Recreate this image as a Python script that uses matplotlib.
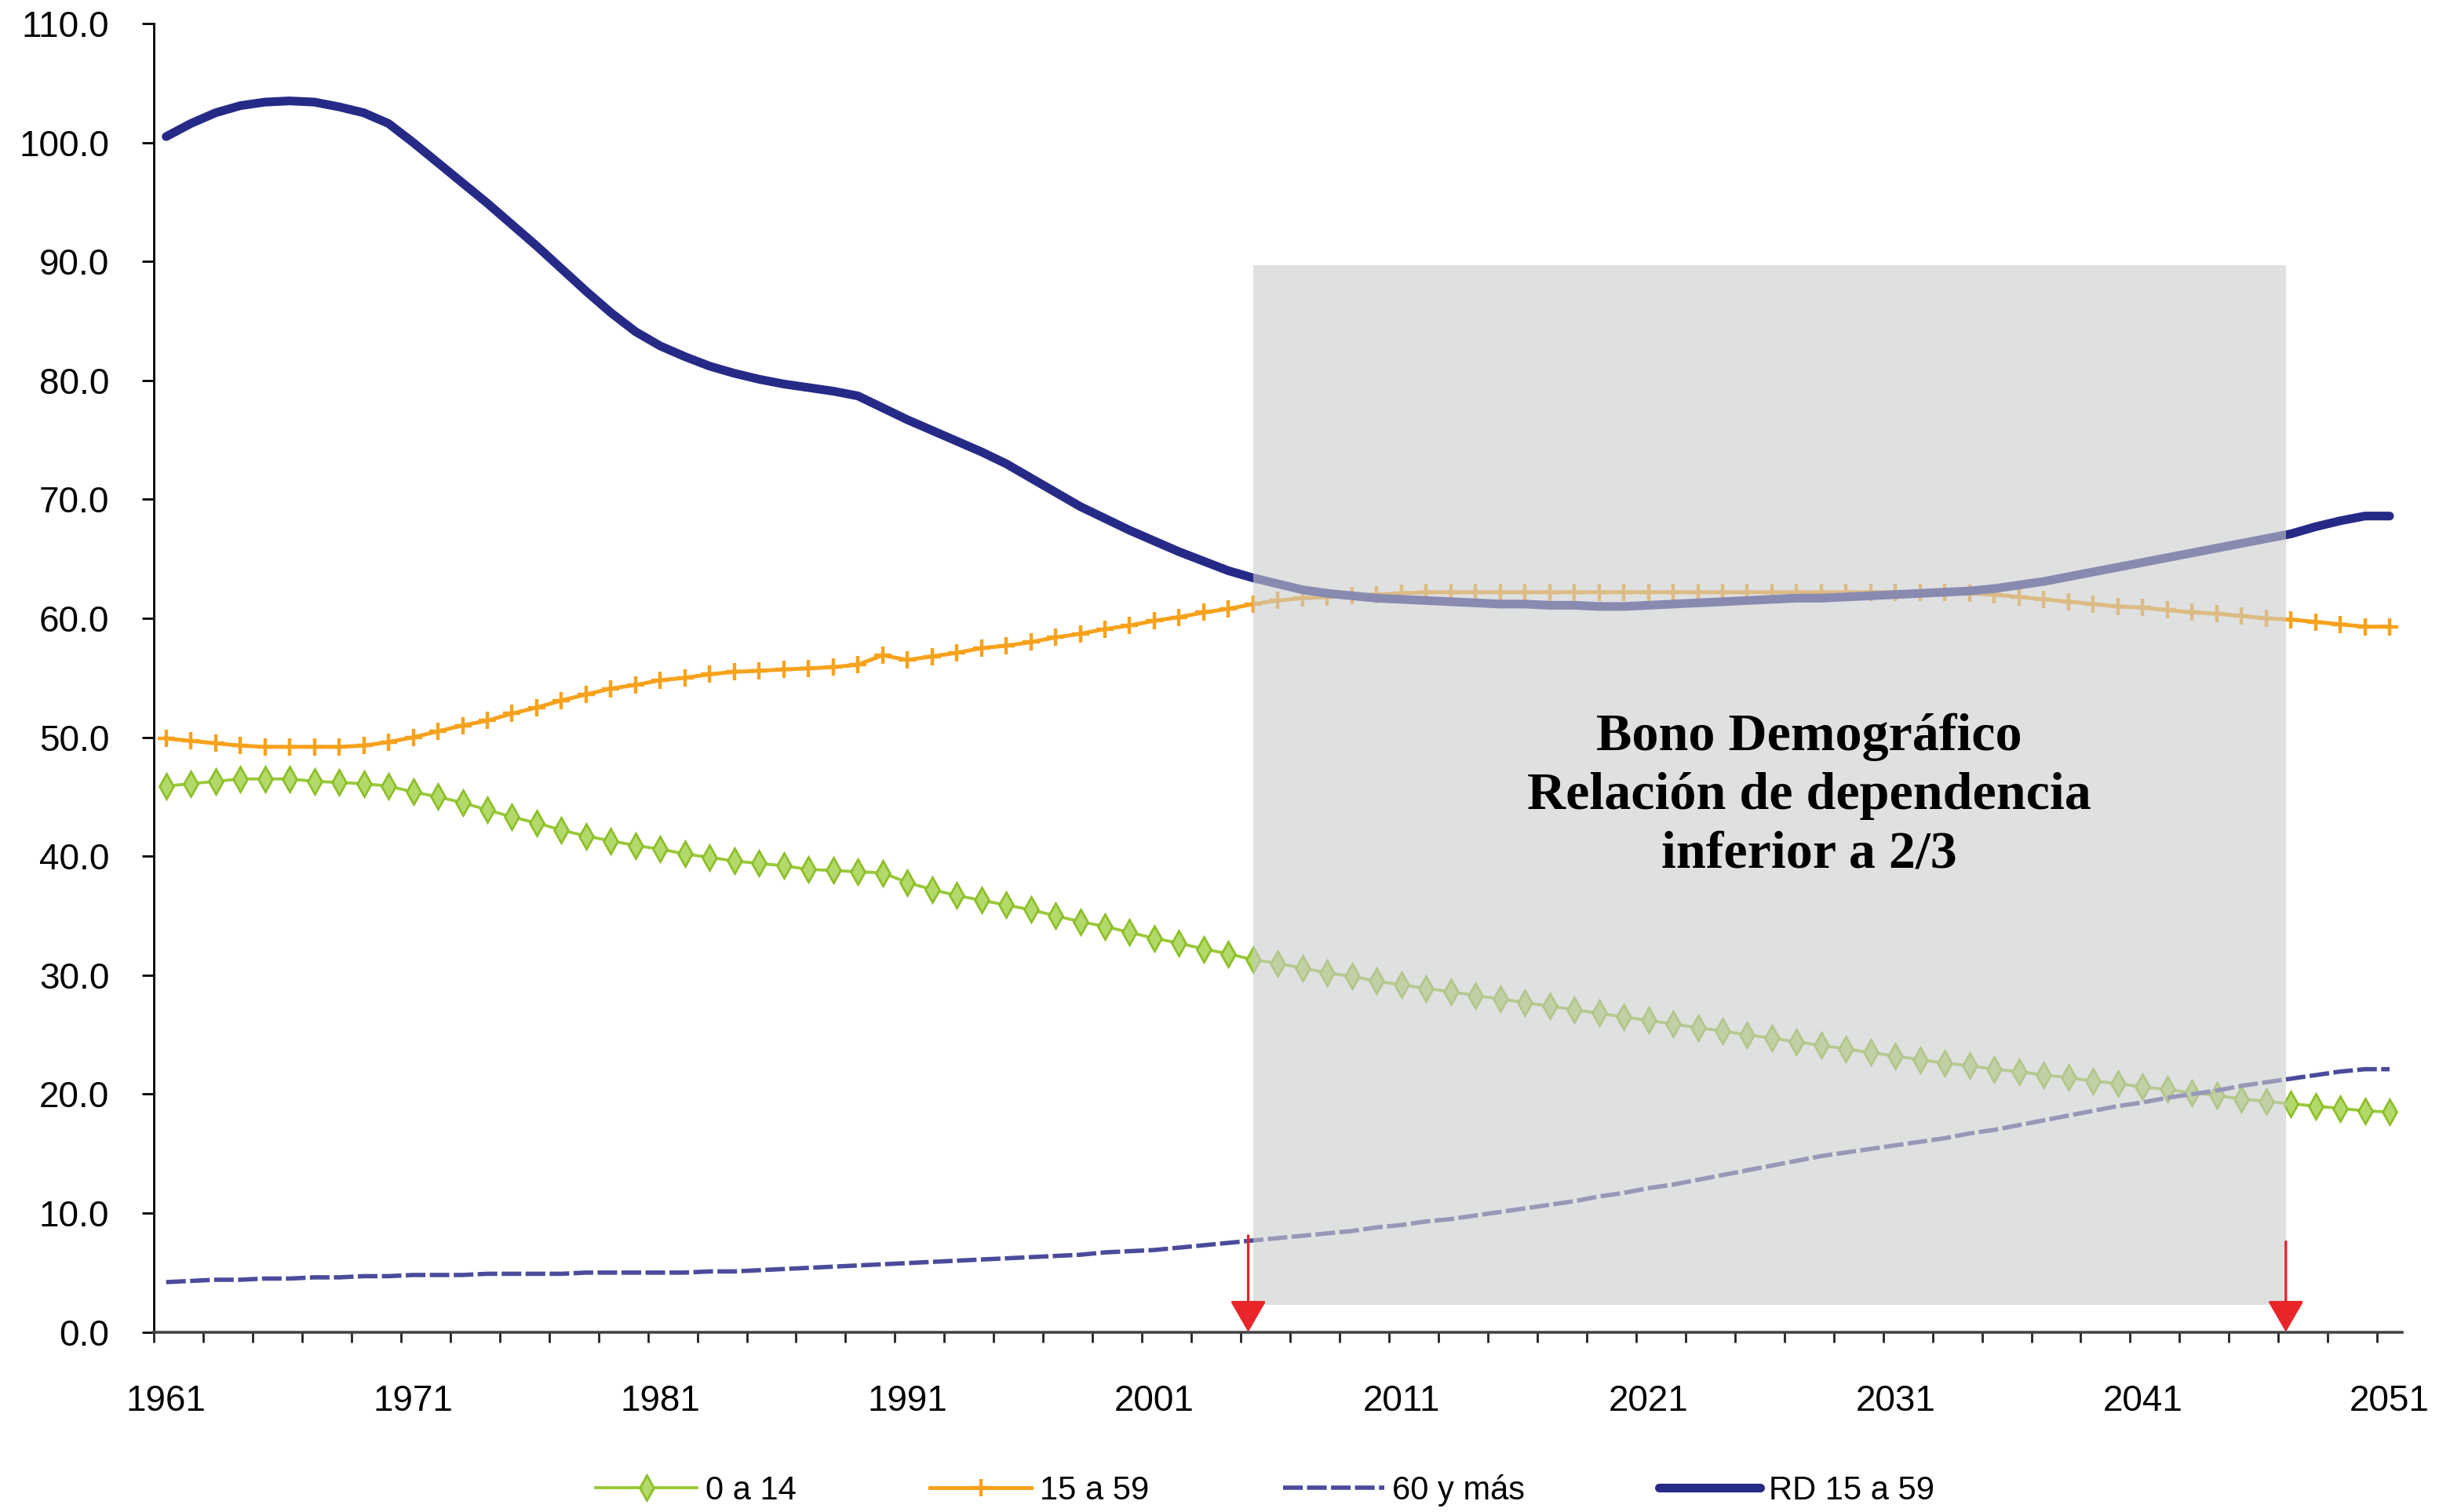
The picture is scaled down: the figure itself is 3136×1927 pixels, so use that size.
import matplotlib
matplotlib.use("Agg")
import matplotlib.pyplot as plt
from matplotlib.patches import Rectangle

# %% data
years = list(range(1961, 2052))

edad_0_14 = [45.9, 46.1, 46.3, 46.5, 46.5, 46.5, 46.3, 46.2, 46.1, 45.9,
             45.4, 45.0, 44.5, 43.9, 43.3, 42.8, 42.2, 41.7, 41.3, 40.9,
             40.6, 40.2, 39.9, 39.6, 39.4, 39.2, 38.9, 38.8, 38.7, 38.6,
             37.8, 37.2, 36.7, 36.3, 35.9, 35.5, 35.0, 34.5, 34.1, 33.6,
             33.1, 32.7, 32.2, 31.8, 31.3, 31.0, 30.6, 30.2, 29.9, 29.5,
             29.2, 28.9, 28.6, 28.3, 28.0, 27.7, 27.4, 27.1, 26.8, 26.5,
             26.2, 25.9, 25.6, 25.3, 25.0, 24.7, 24.4, 24.1, 23.8, 23.5,
             23.2, 22.9, 22.6, 22.4, 22.1, 21.9, 21.6, 21.4, 21.1, 20.9,
             20.6, 20.4, 20.1, 19.9, 19.6, 19.4, 19.2, 19.0, 18.8, 18.6,
             18.5]

edad_15_59 = [49.9, 49.7, 49.5, 49.3, 49.2, 49.2, 49.2, 49.2, 49.3, 49.6,
              50.0, 50.5, 51.0, 51.4, 52.0, 52.5, 53.1, 53.6, 54.1, 54.4,
              54.8, 55.0, 55.3, 55.5, 55.6, 55.7, 55.8, 55.9, 56.1, 56.9,
              56.5, 56.8, 57.1, 57.5, 57.7, 58.0, 58.4, 58.7, 59.1, 59.4,
              59.8, 60.1, 60.5, 60.8, 61.2, 61.5, 61.7, 61.8, 61.9, 62.0,
              62.1, 62.2, 62.2, 62.2, 62.2, 62.2, 62.2, 62.2, 62.2, 62.2,
              62.2, 62.2, 62.2, 62.2, 62.2, 62.2, 62.2, 62.2, 62.2, 62.2,
              62.2, 62.2, 62.2, 62.1, 62.0, 61.8, 61.6, 61.4, 61.2, 61.0,
              60.9, 60.7, 60.5, 60.4, 60.2, 60.0, 59.9, 59.7, 59.5, 59.3,
              59.3]

edad_60_mas = [4.2, 4.3, 4.4, 4.4, 4.5, 4.5, 4.6, 4.6, 4.7, 4.7,
               4.8, 4.8, 4.8, 4.9, 4.9, 4.9, 4.9, 5.0, 5.0, 5.0,
               5.0, 5.0, 5.1, 5.1, 5.2, 5.3, 5.4, 5.5, 5.6, 5.7,
               5.8, 5.9, 6.0, 6.1, 6.2, 6.3, 6.4, 6.5, 6.7, 6.8,
               6.9, 7.1, 7.3, 7.5, 7.7, 7.9, 8.1, 8.3, 8.5, 8.8,
               9.0, 9.3, 9.5, 9.8, 10.1, 10.4, 10.7, 11.0, 11.4, 11.7,
               12.1, 12.4, 12.8, 13.2, 13.6, 14.0, 14.4, 14.8, 15.1, 15.4,
               15.7, 16.0, 16.3, 16.7, 17.0, 17.4, 17.8, 18.2, 18.6, 19.0,
               19.3, 19.7, 20.0, 20.3, 20.7, 21.0, 21.3, 21.6, 21.9, 22.1,
               22.1]

rd_15_59 = [100.5, 101.6, 102.5, 103.1, 103.4, 103.5, 103.4, 103.0, 102.5, 101.6,
            100.0, 98.3, 96.6, 94.9, 93.1, 91.3, 89.4, 87.5, 85.7, 84.1,
            82.9, 82.0, 81.2, 80.6, 80.1, 79.7, 79.4, 79.1, 78.7, 77.7,
            76.7, 75.8, 74.9, 74.0, 73.0, 71.8, 70.6, 69.4, 68.4, 67.4,
            66.5, 65.6, 64.8, 64.0, 63.4, 62.9, 62.4, 62.1, 61.9, 61.7,
            61.6, 61.5, 61.4, 61.3, 61.2, 61.2, 61.1, 61.1, 61.0, 61.0,
            61.1, 61.2, 61.3, 61.4, 61.5, 61.6, 61.7, 61.7, 61.8, 61.9,
            62.0, 62.1, 62.2, 62.3, 62.5, 62.8, 63.1, 63.5, 63.9, 64.3,
            64.7, 65.1, 65.5, 65.9, 66.3, 66.7, 67.1, 67.7, 68.2, 68.6,
            68.6]

year_labels = list(range(1961, 2052, 10))
bono_start, bono_end = 2005.0, 2046.8
arrow_years = [2004.8, 2046.8]
arrow_tops = [8.1, 7.6]

# %% figure
fig = plt.figure(figsize=(15.68, 9.635), dpi=200)
ax = fig.add_axes([0.0625, 0.119, 0.9135, 0.8654])

ax.plot(years, edad_0_14, color='#99c93a', lw=1.4, marker='d', ms=8,
        mfc='#b3d96b', mec='#8dbf28', mew=1.0, label='0 a 14', zorder=3)
ax.plot(years, edad_15_59, color='#f7a21c', lw=1.8, marker='+', ms=8,
        mew=1.6, label='15 a 59', zorder=3)
ax.plot(years, edad_60_mas, color='#4b4b9c', lw=2.0, ls=(0, (4.5, 1.0)),
        label='60 y más', zorder=3)
ax.plot(years, rd_15_59, color='#262a87', lw=4.0, label='RD 15 a 59',
        solid_capstyle='round', zorder=4)

# shaded "bono" box on top of the lines
ax.add_patch(Rectangle((bono_start, 2.3), bono_end - bono_start, 89.7 - 2.3,
                       facecolor='#cbcccc', alpha=0.6, edgecolor='none', zorder=5))
ax.text((bono_start + bono_end) / 2 + 1.6, 45.1,
        'Bono Demográfico\nRelación de dependencia\ninferior a 2/3',
        ha='center', va='center', fontsize=24.5, fontweight='bold',
        family='Liberation Serif', linespacing=1.3, zorder=6)

for xa, top in zip(arrow_years, arrow_tops):
    ax.annotate('', xy=(xa, 0), xytext=(xa, top),
                arrowprops=dict(arrowstyle='-|>,head_width=0.72,head_length=1.25',
                                color='#e8262a', lw=1.2, shrinkA=0, shrinkB=0),
                zorder=7, annotation_clip=False)

# axes
ax.set_xlim(1960.5, 2051.5)
ax.set_ylim(0, 110)
ax.set_yticks(range(0, 111, 10))
ax.set_yticklabels(['%.1f' % v for v in range(0, 111, 10)])
ax.set_xticks(year_labels)
ax.set_xticklabels([str(y) for y in year_labels])
ax.set_xticks([1960.5 + 2 * k for k in range(46)], minor=True)
ax.tick_params(axis='x', which='major', length=0, pad=24, labelsize=16.5)
ax.tick_params(axis='x', which='minor', length=4.7, width=1.0, direction='out', color='#222222')
ax.tick_params(axis='y', length=5.4, width=1.0, pad=15, labelsize=16.5)
for lab in ax.get_xticklabels() + ax.get_yticklabels():
    lab.set_family('Liberation Sans')
ax.spines['top'].set_visible(False)
ax.spines['right'].set_visible(False)
ax.spines['left'].set_linewidth(1.0)
ax.spines['bottom'].set_color('#444444')
ax.spines['bottom'].set_linewidth(1.3)
ax.set_facecolor('white')

fig.legend(loc='center', bbox_to_anchor=(0.514, 0.0145), ncol=4, frameon=False,
           prop={'family': 'Liberation Sans', 'size': 15}, handlelength=3.1,
           handletextpad=0.25, columnspacing=4.1)

fig.savefig('out.png', dpi=200)
